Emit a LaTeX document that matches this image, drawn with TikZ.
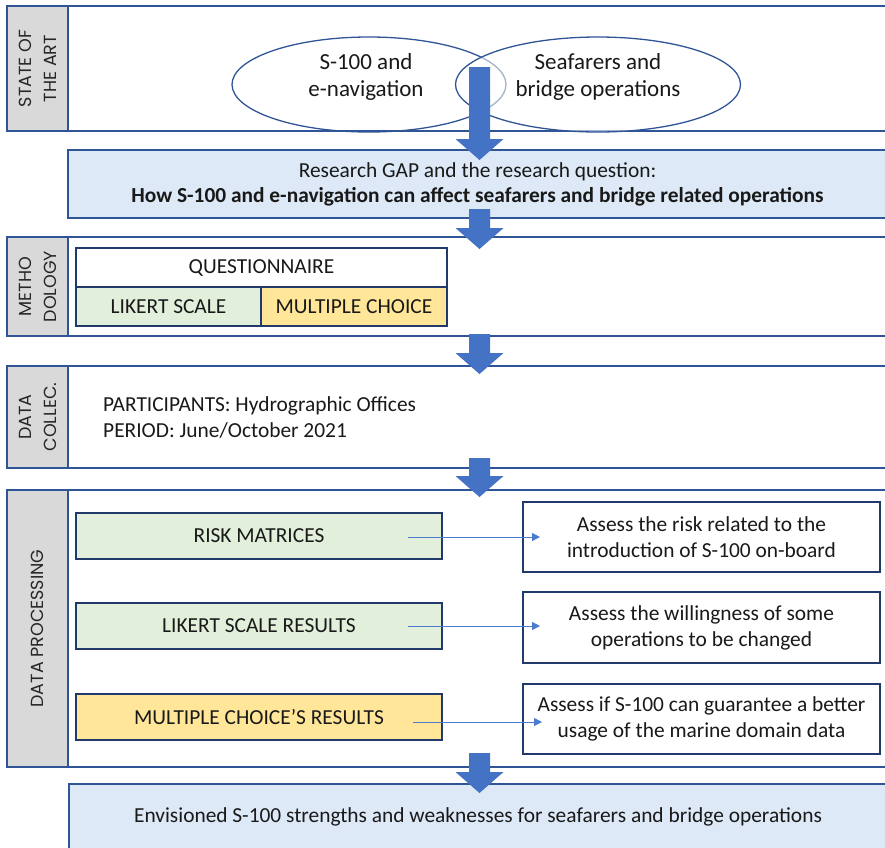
\documentclass[tikz,border=0pt]{standalone}
\usepackage{fontspec}
\setmainfont{Carlito}
\newfontfamily\labfont{Poppins}
\usetikzlibrary{arrows.meta,shapes.geometric}
\definecolor{secblue}{HTML}{2F5597}
\definecolor{navy}{HTML}{22396B}
\definecolor{arrowblue}{HTML}{4472C4}
\definecolor{thinblue}{HTML}{4A7BD0}
\definecolor{lightblue}{HTML}{DDE9F6}
\definecolor{stripgray}{HTML}{D9D9D9}
\definecolor{lightgreen}{HTML}{E2EFDA}
\definecolor{lightyellow}{HTML}{FFE699}
\newcommand\blockarrow[3]{%
  \fill[arrowblue] (#1-10.5,#2) -- (#1+10.5,#2) -- (#1+10.5,#3-21) -- (#1+24,#3-21)
    -- (#1,#3) -- (#1-24,#3-21) -- (#1-10.5,#3-21) -- cycle;}
\tikzset{
  base/.style={anchor=north west, inner sep=0pt, outer sep=0pt},
  secbox/.style={base, draw=secblue, line width=1.3pt},
  stripbox/.style={base, draw=secblue, line width=1.3pt, fill=stripgray},
  innerbox/.style={base, draw=navy, line width=1.4pt, align=center},
  striplabel/.style={rotate=90, align=center, font=\labfont\fontsize{17.5}{25}\selectfont, text=black!85},
  maintext/.style={font=\fontsize{21.4}{25}\selectfont, text=black!90},
  twoline/.style={font=\fontsize{21.4}{26}\selectfont},
  ell/.style={ellipse, draw=secblue, line width=1.3pt, inner sep=0pt},
  thinarrow/.style={draw=thinblue, line width=1pt, -{Triangle[length=8pt,width=8pt]}},
}
\begin{document}
\begin{tikzpicture}[x=1pt,y=-1pt]
\useasboundingbox (0,0) rectangle (885,847);
% ---------- section 1: state of the art
\node[secbox, minimum width=880pt, minimum height=125pt] (s1) at (7,6) {};
\node[stripbox, minimum width=61pt, minimum height=125pt] (st1) at (7,6) {};
\node[striplabel] (l1) at (st1.center) {STATE OF\\THE ART};
\node[ell, minimum width=274pt, minimum height=95pt] (e1) at (369,84.5) {};
\fill[white, opacity=0.55] (598,84.5) ellipse [x radius=142.5pt, y radius=47.5pt];
\node[ell, minimum width=285pt, minimum height=95pt] (e2) at (598,84.5) {};
\node[maintext, align=center, font=\fontsize{23}{27}\selectfont] (t1) at (366,77) {S-100 and\\e-navigation};
\node[maintext, align=center, font=\fontsize{23}{27}\selectfont] (t2) at (598,77) {Seafarers and\\bridge operations};
% ---------- research gap
\node[secbox, fill=lightblue, minimum width=819pt, minimum height=68pt, maintext, align=center] (gap) at (68,150)
  {Research GAP and the research question:\\\textbf{How S-100 and e-navigation can affect seafarers and bridge related operations}};
\blockarrow{479.5}{67}{160}
% ---------- section 2: methodology
\node[secbox, minimum width=880pt, minimum height=99pt] (s2) at (7,237) {};
\node[stripbox, minimum width=61pt, minimum height=99pt] (st2) at (7,237) {};
\node[striplabel] (l2) at (st2.center) {METHO\\DOLOGY};
\node[innerbox, fill=white, minimum width=371pt, minimum height=39pt, maintext] (q) at (76,248) {QUESTIONNAIRE};
\node[innerbox, fill=lightgreen, minimum width=185pt, minimum height=39pt, maintext] (lik) at (76,287) {LIKERT SCALE};
\node[innerbox, fill=lightyellow, minimum width=186pt, minimum height=39pt, maintext] (mc) at (261,287) {MULTIPLE CHOICE};
\blockarrow{479.5}{209}{249}
% ---------- section 3: data collection
\node[secbox, minimum width=880pt, minimum height=102pt] (s3) at (7,366) {};
\node[stripbox, minimum width=61pt, minimum height=102pt] (st3) at (7,366) {};
\node[striplabel] (l3) at (st3.center) {DATA\\COLLEC.};
\node[maintext, twoline, anchor=west, align=left, inner sep=0pt] (dc) at (103,418)
  {PARTICIPANTS: Hydrographic Offices\\PERIOD: June/October 2021};
\blockarrow{479.5}{334}{374}
% ---------- section 4: data processing
\node[secbox, minimum width=880pt, minimum height=277pt] (s4) at (7,490) {};
\node[stripbox, minimum width=61pt, minimum height=277pt] (st4) at (7,490) {};
\node[striplabel] (l4) at (st4.center) {DATA PROCESSING};
\blockarrow{479.5}{458}{497}
\node[innerbox, fill=lightgreen, minimum width=366pt, minimum height=46pt, maintext] (rm) at (76,513) {RISK MATRICES};
\node[innerbox, fill=lightgreen, minimum width=366pt, minimum height=46pt, maintext] (ls) at (76,603) {LIKERT SCALE RESULTS};
\node[innerbox, fill=lightyellow, minimum width=366pt, minimum height=46pt, maintext] (mcr) at (76,694) {MULTIPLE CHOICE’S RESULTS};
\node[innerbox, fill=white, minimum width=357pt, minimum height=70pt, maintext, twoline] (a1) at (523,502)
  {Assess the risk related to the\\introduction of S-100 on-board};
\node[innerbox, fill=white, minimum width=357pt, minimum height=71pt, maintext, twoline] (a2) at (523,592)
  {Assess the willingness of some\\operations to be changed};
\node[innerbox, fill=white, minimum width=357pt, minimum height=70pt, maintext, twoline] (a3) at (523,684)
  {Assess if S-100 can guarantee a better\\usage of the marine domain data};
\draw[thinarrow] ([xshift=-34pt,yshift=-1pt]rm.east) -- ([xshift=17pt,yshift=-1pt]rm.east -| a1.west);
\draw[thinarrow] ([xshift=-34pt]ls.east) -- ([xshift=17pt]ls.east -| a2.west);
\draw[thinarrow] ([xshift=-29pt,yshift=-5pt]mcr.east) -- ([xshift=19pt,yshift=-5pt]mcr.east -| a3.west);
% ---------- final
\node[secbox, fill=lightblue, minimum width=818pt, minimum height=65pt, maintext] (fin) at (69,784)
  {Envisioned S-100 strengths and weaknesses for seafarers and bridge operations};
\blockarrow{479.5}{753}{793}
\end{tikzpicture}
\end{document}
